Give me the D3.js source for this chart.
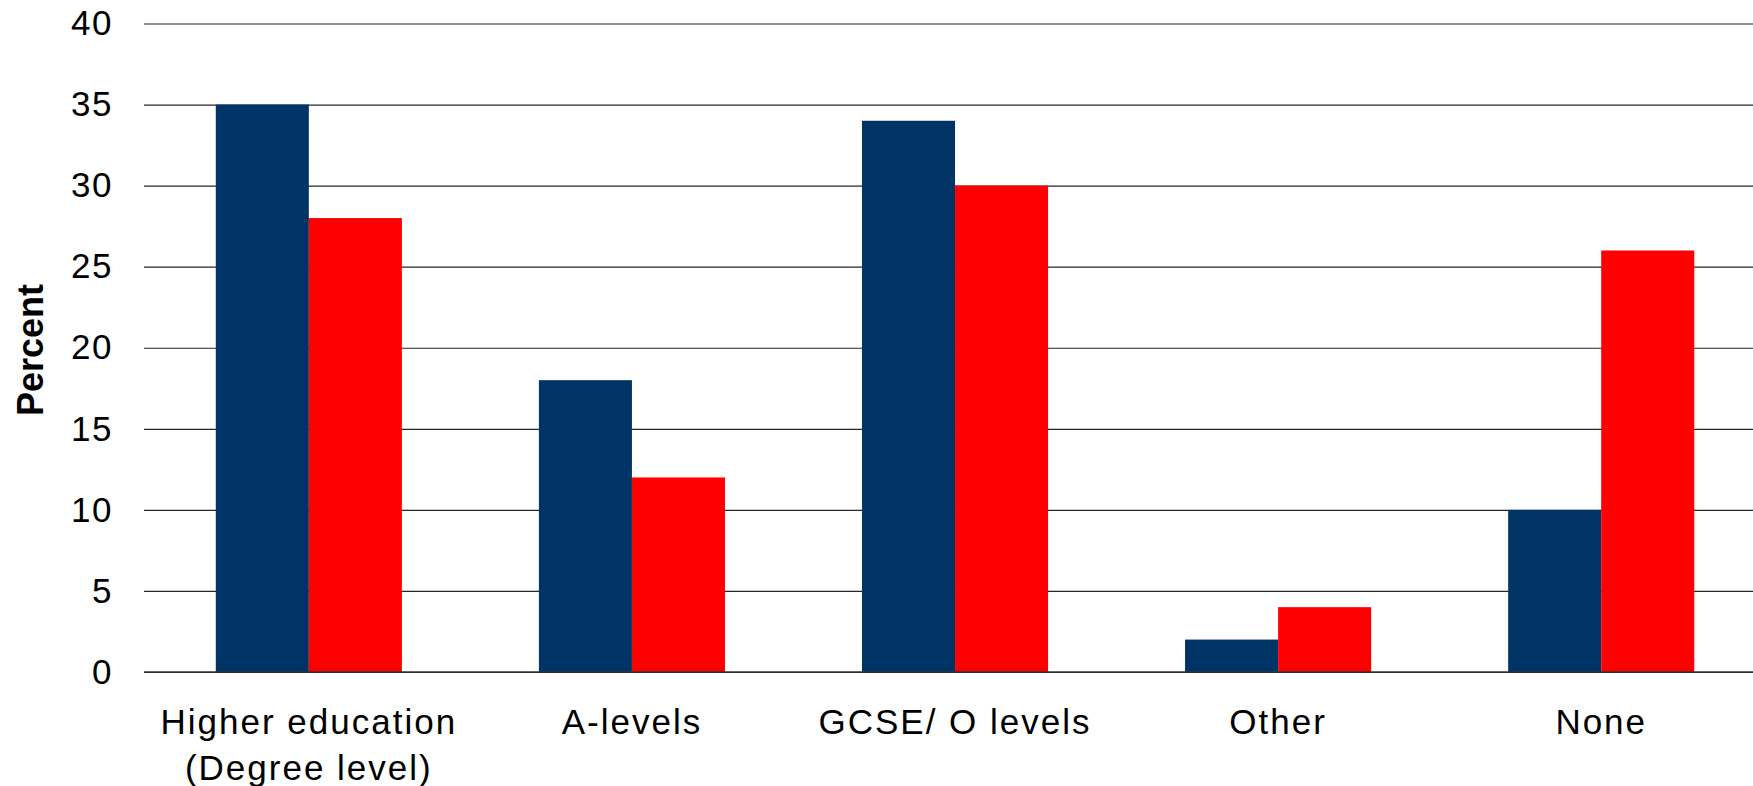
<!DOCTYPE html>
<html>
<head>
<meta charset="utf-8">
<script src="https://cdn.jsdelivr.net/npm/d3@7"></script>
<style>
  html, body { margin: 0; padding: 0; background: #fff; }
  svg { display: block; }
  text { font-family: "Liberation Sans", Arial, sans-serif; fill: #000; }
</style>
</head>
<body>
<svg id="chart" width="1753" height="786"></svg>
<script>
// Highest qualification, two groups compared (percent)
const categories = ["Higher education\n(Degree level)", "A-levels", "GCSE/ O levels", "Other", "None"];
const seriesNames = ["Group A", "Group B"];
const seriesA = [35, 18, 34, 2, 10];
const seriesB = [28, 12, 30, 4, 26];
const yTicks = [0, 5, 10, 15, 20, 25, 30, 35, 40];
const colors = ["#003366", "#ff0000"];

const width = 1753, height = 786;
const margin = { top: 23.5, right: 0, bottom: 114, left: 144 };
const plotW = width - margin.left - margin.right;
const plotH = height - margin.top - margin.bottom;

const svg = d3.select("#chart");
const g = svg.append("g").attr("transform", `translate(${margin.left},${margin.top})`);

const y = d3.scaleLinear().domain([0, 40]).range([plotH, 0]);

const x = d3.scaleBand()
  .domain(categories)
  .range([0, plotW])
  .paddingInner(0.424)
  .paddingOuter(0.202)
  .align(0.55);

const xSeries = d3.scaleBand()
  .domain(seriesNames)
  .range([0, x.bandwidth()])
  .padding(0);

// horizontal gridlines + tick labels
const yAxis = d3.axisLeft(y)
  .tickValues(yTicks)
  .tickSize(-plotW)
  .tickPadding(31)
  .tickFormat(d3.format("d"));

const yg = g.append("g").call(yAxis);
yg.select(".domain").remove();
yg.selectAll(".tick line").attr("stroke", "#262626").attr("stroke-width", 1.2);
yg.selectAll(".tick text")
  .attr("font-size", 35)
  .attr("letter-spacing", "1.5px")
  .attr("fill", "#000")
  .style("font-family", "'Liberation Sans', Arial, sans-serif");

// bars
const rows = categories.map((c, i) => ({ cat: c, vals: [seriesA[i], seriesB[i]] }));
const groups = g.selectAll("g.grp")
  .data(rows)
  .enter().append("g")
  .attr("class", "grp")
  .attr("transform", d => `translate(${x(d.cat)},0)`);

groups.selectAll("rect")
  .data(d => d.vals.map((v, k) => ({ s: seriesNames[k], v, k })))
  .enter().append("rect")
  .attr("x", d => xSeries(d.s))
  .attr("width", xSeries.bandwidth())
  .attr("y", d => y(d.v))
  .attr("height", d => y(0) - y(d.v))
  .attr("fill", d => colors[d.k]);

// baseline
g.append("line")
  .attr("x1", 0).attr("x2", plotW)
  .attr("y1", y(0)).attr("y2", y(0))
  .attr("stroke", "#333").attr("stroke-width", 1.5);

// category labels
const xl = g.append("g").attr("transform", `translate(0,${plotH})`);
categories.forEach(c => {
  const lines = c.split("\n");
  const t = xl.append("text")
    .attr("x", x(c) + x.bandwidth() / 2)
    .attr("y", 62)
    .attr("text-anchor", "middle")
    .attr("font-size", 35)
    .attr("letter-spacing", "2px");
  lines.forEach((ln, i) => {
    t.append("tspan")
      .attr("x", x(c) + x.bandwidth() / 2)
      .attr("dy", i === 0 ? 0 : 46)
      .text(ln);
  });
});

// y axis title
svg.append("text")
  .attr("transform", `translate(43,350) rotate(-90)`)
  .attr("text-anchor", "middle")
  .attr("font-size", 36)
  .attr("font-weight", "bold")
  .text("Percent");
</script>
</body>
</html>
